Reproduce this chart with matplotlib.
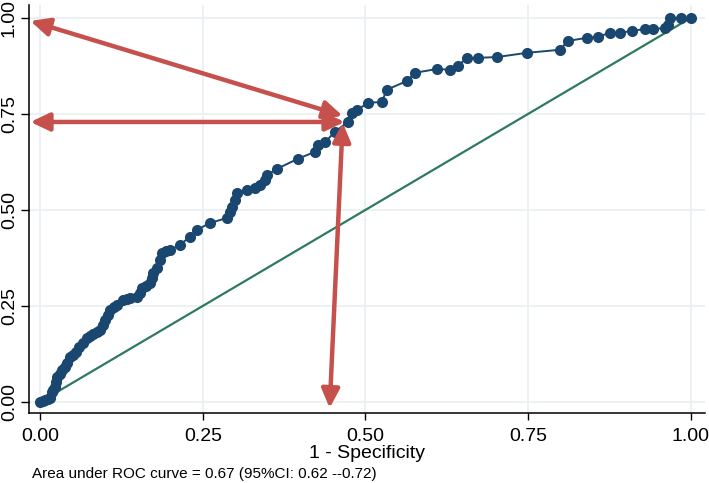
"""ROC curve with cut-off arrows"""

import matplotlib

matplotlib.use("Agg")
from matplotlib import pyplot as plt

plt.rcParams["font.family"] = ["Liberation Sans", "DejaVu Sans"]

# ROC points: 1 - specificity, sensitivity
fpr = [
    0.000, 0.004, 0.008, 0.012, 0.015, 0.018, 0.020, 0.023, 0.025, 0.026,
    0.030, 0.034, 0.038, 0.041, 0.046, 0.050, 0.055, 0.060, 0.066, 0.072,
    0.077, 0.081, 0.087, 0.092, 0.096, 0.100, 0.104, 0.108, 0.113, 0.118,
    0.127, 0.133, 0.138, 0.149, 0.153, 0.157, 0.163, 0.169, 0.172, 0.174,
    0.180, 0.184, 0.187, 0.193, 0.200, 0.215, 0.230, 0.241, 0.261, 0.287,
    0.292, 0.295, 0.300, 0.303, 0.318, 0.330, 0.338, 0.346, 0.349, 0.364,
    0.396, 0.422, 0.427, 0.438, 0.453, 0.473, 0.479, 0.487, 0.504, 0.525,
    0.533, 0.564, 0.576, 0.610, 0.630, 0.642, 0.656, 0.673, 0.702, 0.748,
    0.799, 0.811, 0.840, 0.857, 0.876, 0.891, 0.909, 0.929, 0.942, 0.960,
    0.965, 0.968, 0.985, 1.000,
]
tpr = [
    0.000, 0.003, 0.005, 0.008, 0.010, 0.026, 0.032, 0.039, 0.052, 0.065,
    0.073, 0.083, 0.092, 0.102, 0.117, 0.122, 0.130, 0.142, 0.154, 0.167,
    0.172, 0.177, 0.182, 0.188, 0.201, 0.214, 0.227, 0.240, 0.247, 0.253,
    0.266, 0.269, 0.271, 0.273, 0.285, 0.297, 0.303, 0.310, 0.323, 0.336,
    0.349, 0.370, 0.388, 0.392, 0.396, 0.409, 0.430, 0.448, 0.466, 0.479,
    0.494, 0.508, 0.526, 0.544, 0.552, 0.557, 0.565, 0.578, 0.591, 0.607,
    0.633, 0.651, 0.669, 0.677, 0.703, 0.729, 0.753, 0.760, 0.779, 0.781,
    0.813, 0.836, 0.857, 0.867, 0.865, 0.875, 0.896, 0.896, 0.898, 0.909,
    0.917, 0.940, 0.948, 0.951, 0.961, 0.961, 0.966, 0.971, 0.971, 0.974,
    0.982, 1.000, 1.000, 1.000,
]

# reference (chance) line
ref_x = [0.0, 1.0]
ref_y = [0.0, 1.0]

# double headed arrows: (start, end)
arrows = [
    ((-0.015, 0.992), (0.465, 0.745)),
    ((-0.015, 0.729), (0.468, 0.729)),
    ((0.445, -0.016), (0.465, 0.727)),
]

ticks = [0.0, 0.25, 0.5, 0.75, 1.0]
tick_labels = ["0.00", "0.25", "0.50", "0.75", "1.00"]
auc_note = "Area under ROC curve = 0.67 (95%CI: 0.62 --0.72)"

NAVY = "#1a476f"
GREEN = "#2e7a5f"
RED = "#c5504c"
GRID = "#e9f0f2"

fig = plt.figure(figsize=(7.09, 4.83), dpi=100)
axis = fig.add_axes([0.041, 0.145, 0.953, 0.845])

axis.plot(ref_x, ref_y, color=GREEN, lw=1.6, zorder=2)
axis.plot(
    fpr, tpr, "-o", color=NAVY, lw=1.4, markersize=8, markeredgewidth=0, zorder=3
)

for start, end in arrows:
    axis.annotate(
        "",
        xy=end,
        xytext=start,
        arrowprops=dict(
            arrowstyle="<|-|>,head_length=0.95,head_width=0.45",
            color=RED,
            lw=3.2,
            mutation_scale=12,
            shrinkA=0,
            shrinkB=0,
        ),
        zorder=4,
    )

axis.set_xlim(-0.017, 1.0215)
axis.set_ylim(-0.0286, 1.034)
axis.set_xticks(ticks)
axis.set_xticklabels(tick_labels, fontsize=14)
axis.set_yticks(ticks)
axis.set_yticklabels(tick_labels, fontsize=14, rotation=90, va="center")
axis.tick_params(axis="y", length=6, width=1, pad=2)
axis.tick_params(axis="x", length=5, width=1, pad=6)
axis.grid(True, color=GRID, lw=1.2, zorder=0)
axis.set_axisbelow(True)

for side in ("top", "right"):
    axis.spines[side].set_visible(False)
for side in ("left", "bottom"):
    axis.spines[side].set_linewidth(1.1)

axis.set_xlabel("1 - Specificity", fontsize=14, labelpad=0)
fig.text(0.045, 0.019, auc_note, fontsize=11, ha="left", va="center")

fig.savefig("out.png", dpi=100)
